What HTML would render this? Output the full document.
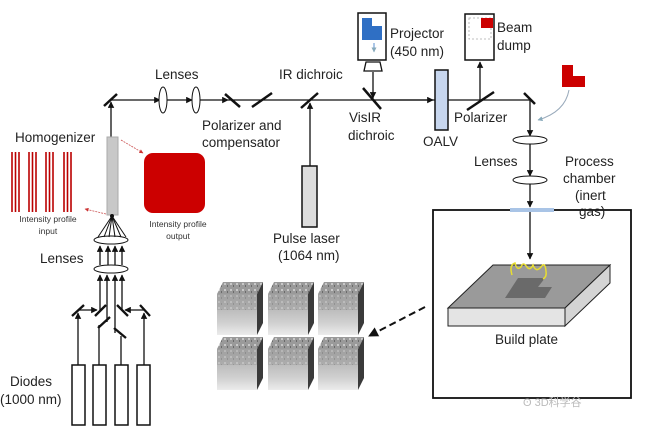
<!DOCTYPE html>
<html><head><meta charset="utf-8"><style>
html,body{margin:0;padding:0;background:#fff;}
svg{display:block;font-family:"Liberation Sans",Arial,sans-serif;}
</style></head><body>
<svg width="650" height="437" viewBox="0 0 650 437" xmlns="http://www.w3.org/2000/svg">
<defs>
<marker id="a" viewBox="0 0 10 10" refX="9" refY="5" markerWidth="5" markerHeight="5" orient="auto"><path d="M0,0 L10,5 L0,10 z" fill="#111"/></marker>
<marker id="r" viewBox="0 0 10 10" refX="9" refY="5" markerWidth="5" markerHeight="5" orient="auto"><path d="M0,0 L10,5 L0,10 z" fill="#c33"/></marker>
<marker id="b" viewBox="0 0 10 10" refX="9" refY="5" markerWidth="5" markerHeight="5" orient="auto"><path d="M0,0 L10,5 L0,10 z" fill="#8ab"/></marker>
<linearGradient id="cf" x1="0" y1="0" x2="0" y2="1"><stop offset="0" stop-color="#a5a5a5"/><stop offset="0.7" stop-color="#d0d0d0"/><stop offset="1" stop-color="#ececec"/></linearGradient>
<pattern id="tx" width="6" height="6" patternUnits="userSpaceOnUse"><rect width="6" height="6" fill="#9a9a9a"/><rect x="1" y="1" width="2" height="2" fill="#c8c8c8"/><rect x="4" y="3" width="1" height="2" fill="#6a6a6a"/></pattern>
<g id="cube"><rect x="0" y="12" width="40" height="41" fill="url(#cf)"/><polygon points="0,12 6,0 46,0 40,12" fill="url(#tx)"/><polygon points="0,12 40,12 40,28 0,28" fill="url(#tx)" opacity="0.45"/><polygon points="40,12 46,0 46,41 40,53" fill="#3a3a3a"/></g>
</defs>
<g stroke="#111" stroke-width="1.3" fill="none">
<line x1="111" y1="100" x2="160" y2="100" marker-end="url(#a)"/>
<line x1="166" y1="100" x2="192" y2="100" marker-end="url(#a)"/>
<line x1="199" y1="100" x2="228" y2="100" marker-end="url(#a)"/>
<line x1="228" y1="100" x2="530" y2="100"/>
<line x1="390" y1="100" x2="433" y2="100" marker-end="url(#a)"/>
<line x1="111" y1="137" x2="111" y2="102" marker-end="url(#a)"/>
<line x1="310" y1="166" x2="310" y2="103" marker-end="url(#a)"/>
<line x1="373" y1="72" x2="373" y2="98" marker-end="url(#a)"/>
<line x1="480" y1="100" x2="480" y2="62" marker-end="url(#a)"/>
<line x1="530" y1="100" x2="530" y2="136" marker-end="url(#a)"/>
<line x1="530" y1="144" x2="530" y2="176" marker-end="url(#a)"/>
<line x1="530" y1="184" x2="530" y2="207" marker-end="url(#a)"/>
<line x1="530" y1="212" x2="530" y2="259" marker-end="url(#a)"/>
</g>
<g stroke="#111" stroke-width="2.5">
<line x1="104" y1="106" x2="117" y2="94"/>
<line x1="225" y1="94" x2="240" y2="107"/>
<line x1="252" y1="107" x2="272" y2="93"/>
<line x1="301" y1="108" x2="318" y2="93"/>
<line x1="363" y1="88" x2="381" y2="109"/>
<line x1="467" y1="110" x2="494" y2="92"/>
<line x1="524" y1="93" x2="535" y2="104"/>
</g>
<g fill="#fff" stroke="#111" stroke-width="1">
<ellipse cx="163" cy="100" rx="4" ry="13"/>
<ellipse cx="196" cy="100" rx="4" ry="13"/>
<ellipse cx="530" cy="140" rx="17" ry="4"/>
<ellipse cx="530" cy="180" rx="17" ry="4"/>
<ellipse cx="111" cy="240" rx="17" ry="4"/>
<ellipse cx="111" cy="269" rx="17" ry="4"/>
</g>
<rect x="302" y="166" width="15" height="61" fill="#ddd" stroke="#111" stroke-width="1.5"/>
<rect x="358" y="13" width="28" height="47" fill="#fff" stroke="#111" stroke-width="1.5"/>
<polygon points="362,18 372,18 372,26 382,26 382,40 362,40" fill="#2f6fc4"/>
<line x1="374" y1="43" x2="374" y2="52" stroke="#5a8fd0" stroke-width="1" marker-end="url(#b)"/>
<polygon points="366,62 380,62 382,71 364,71" fill="#fff" stroke="#111" stroke-width="1.3"/>
<rect x="435" y="70" width="13" height="60" fill="#c7d6ee" stroke="#111" stroke-width="1.5"/>
<rect x="465" y="14" width="29" height="46" fill="#fff" stroke="#111" stroke-width="1.5"/>
<rect x="469" y="18" width="22" height="21" fill="none" stroke="#aaa" stroke-width="0.8" stroke-dasharray="2,2"/>
<rect x="481" y="18" width="12" height="10" fill="#c00"/>
<polygon points="562,65 573,65 573,76 585,76 585,87 562,87" fill="#c00"/>
<path d="M569,90 Q565,112 538,120" fill="none" stroke="#9ab" stroke-width="1" marker-end="url(#b)"/>
<rect x="107" y="137" width="11" height="78" fill="#c8c8c8" stroke="#aaa"/>
<g stroke="#b00" stroke-width="1.6">
<line x1="12" y1="152" x2="12" y2="212"/><line x1="15.5" y1="152" x2="15.5" y2="212"/><line x1="19" y1="152" x2="19" y2="212"/>
<line x1="29" y1="152" x2="29" y2="212"/><line x1="32.5" y1="152" x2="32.5" y2="212"/><line x1="36" y1="152" x2="36" y2="212"/>
<line x1="46" y1="152" x2="46" y2="212"/><line x1="49.5" y1="152" x2="49.5" y2="212"/><line x1="53" y1="152" x2="53" y2="212"/>
<line x1="64" y1="152" x2="64" y2="212"/><line x1="67.5" y1="152" x2="67.5" y2="212"/><line x1="71" y1="152" x2="71" y2="212"/>
</g>
<rect x="144" y="153" width="61" height="60" rx="9" fill="#c00"/>
<line x1="121" y1="140" x2="143" y2="153" stroke="#c55" stroke-width="0.8" stroke-dasharray="2,1" marker-end="url(#r)"/>
<line x1="106" y1="214" x2="85" y2="209" stroke="#c55" stroke-width="0.8" stroke-dasharray="2,1" marker-end="url(#r)"/>
<g stroke="#111" stroke-width="1" fill="none">
<line x1="98" y1="237" x2="112" y2="216"/><line x1="104" y1="237" x2="112" y2="216"/><line x1="109" y1="237" x2="112" y2="216"/><line x1="115" y1="237" x2="112" y2="216"/><line x1="121" y1="237" x2="112" y2="216"/><line x1="126" y1="237" x2="112" y2="216"/>
</g>
<circle cx="112" cy="216" r="2" fill="#111"/>
<g stroke="#111" stroke-width="1.3" fill="none">
<line x1="100" y1="265" x2="100" y2="246" marker-end="url(#a)"/>
<line x1="108" y1="265" x2="108" y2="246" marker-end="url(#a)"/>
<line x1="115" y1="265" x2="115" y2="246" marker-end="url(#a)"/>
<line x1="122" y1="265" x2="122" y2="246" marker-end="url(#a)"/>
<line x1="100" y1="310" x2="100" y2="275" marker-end="url(#a)"/>
<line x1="107" y1="322" x2="107" y2="275" marker-end="url(#a)"/>
<line x1="115" y1="333" x2="115" y2="275" marker-end="url(#a)"/>
<line x1="122" y1="310" x2="122" y2="275" marker-end="url(#a)"/>
<line x1="78" y1="365" x2="78" y2="313" marker-end="url(#a)"/>
<line x1="78" y1="310" x2="97" y2="310" marker-end="url(#a)"/>
<line x1="99" y1="365" x2="99" y2="325"/>
<line x1="121" y1="365" x2="121" y2="336"/>
<line x1="144" y1="365" x2="144" y2="313" marker-end="url(#a)"/>
<line x1="144" y1="310" x2="125" y2="310" marker-end="url(#a)"/>
</g>
<g stroke="#111" stroke-width="2.3">
<line x1="72" y1="316" x2="84" y2="305"/><line x1="95" y1="316" x2="106" y2="305"/>
<line x1="98" y1="328" x2="110" y2="317"/><line x1="114" y1="328" x2="126" y2="338"/>
<line x1="117" y1="305" x2="128" y2="316"/><line x1="140" y1="305" x2="150" y2="316"/>
</g>
<g fill="#fff" stroke="#111" stroke-width="1.5">
<rect x="72" y="365" width="13" height="60"/><rect x="93" y="365" width="13" height="60"/>
<rect x="115" y="365" width="13" height="60"/><rect x="137" y="365" width="13" height="60"/>
</g>
<rect x="433" y="210" width="198" height="188" fill="none" stroke="#111" stroke-width="1.8"/>
<rect x="510" y="208" width="44" height="4" fill="#a9c4e6"/>
<polygon points="448,308 493,265 610,265 565,308" fill="#9a9a9a" stroke="#222"/>
<polygon points="448,308 565,308 565,326 448,326" fill="#e4e4e4" stroke="#222"/>
<polygon points="565,308 610,265 610,283 565,326" fill="#d4d4d4" stroke="#222"/>
<polygon points="505,298 518,278 545,278 538,287 552,287 545,298" fill="#6a6a6a"/>
<path d="M512,275 q-3,-10 3,-12 q2,8 6,4 q2,-6 6,0 q3,4 6,-2 q3,8 8,2 q4,-6 5,4 q1,6 -3,8" fill="none" stroke="#e8dd30" stroke-width="1.5"/>
<line x1="425" y1="307" x2="369" y2="336" stroke="#111" stroke-width="2" stroke-dasharray="7,4" marker-end="url(#a)"/>
<use href="#cube" x="217" y="282"/><use href="#cube" x="268" y="282"/><use href="#cube" x="318" y="282"/>
<use href="#cube" x="217" y="337"/><use href="#cube" x="268" y="337"/><use href="#cube" x="318" y="337"/>
<g fill="#222" font-size="13.5">
<text x="155" y="79">Lenses</text>
<text x="279" y="79">IR dichroic</text>
<text x="202" y="130">Polarizer and</text>
<text x="202" y="147">compensator</text>
<text x="15" y="142">Homogenizer</text>
<text x="390" y="38">Projector</text>
<text x="390" y="56">(450 nm)</text>
<text x="497" y="32">Beam</text>
<text x="497" y="50">dump</text>
<text x="349" y="122">VisIR</text>
<text x="348" y="140">dichroic</text>
<text x="423" y="146">OALV</text>
<text x="454" y="122">Polarizer</text>
<text x="474" y="166">Lenses</text>
<text x="565" y="166">Process</text>
<text x="563" y="183">chamber</text>
<text x="575" y="200">(inert</text>
<text x="579" y="216">gas)</text>
<text x="273" y="243">Pulse laser</text>
<text x="278" y="260">(1064 nm)</text>
<text x="40" y="263">Lenses</text>
<text x="10" y="386">Diodes</text>
<text x="0" y="404">(1000 nm)</text>
<text x="495" y="344">Build plate</text>
</g>
<g fill="#333" font-size="8.5" text-anchor="middle">
<text x="48" y="222">Intensity profile</text>
<text x="48" y="234">input</text>
<text x="178" y="227">Intensity profile</text>
<text x="178" y="239">output</text>
</g>
<text x="523" y="406" font-size="11" fill="#bbb" font-family="'Liberation Sans','Noto Sans CJK SC',sans-serif">ʘ 3D科学谷</text>
</svg>
</body></html>
